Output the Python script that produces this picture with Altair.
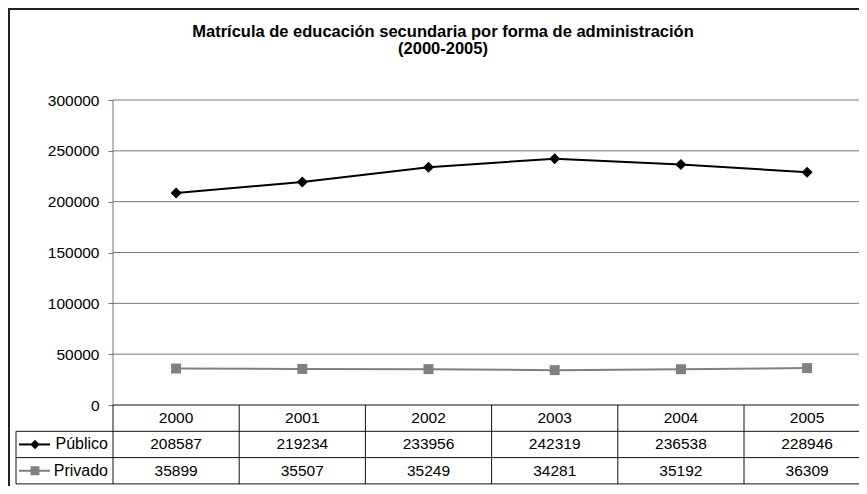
import altair as alt
import pandas as pd

# ---------------- data ----------------
years = ["2000", "2001", "2002", "2003", "2004", "2005"]
publico = [208587, 219234, 233956, 242319, 236538, 228946]
privado = [35899, 35507, 35249, 34281, 35192, 36309]
series = ["Público", "Privado"]
series_colors = ["#000000", "#808080"]
series_shapes = ["diamond", "square"]
y_ticks = [0, 50000, 100000, 150000, 200000, 250000, 300000]
title_lines = ["Matrícula de educación secundaria por forma de administración", "(2000-2005)"]

# ---------------- layout (pixels) ----------------
W, H = 851, 478
PLOT_L = 105.0     # left edge of the plot area inside the svg
COL_W = 126.2      # width of one year column
Y_ZERO = 397.0     # pixel row of value 0
Y_TOP = 92.0       # pixel row of the highest tick
ROW_H = 26.3       # data-table row height
LEG_W = 97.0       # width of the legend column of the data table
Y_MAX = y_ticks[-1]
FONT = "Liberation Sans, Arial, sans-serif"

# x scale in column-index units
x_lo = -0.5 - PLOT_L / COL_W
x_hi = x_lo + W / COL_W
xscale = alt.Scale(domain=[x_lo, x_hi], nice=False, zero=False)
leg_left = -0.5 - LEG_W / COL_W
n = len(years)

# value scale
upp = Y_MAX / (Y_ZERO - Y_TOP)
vscale = alt.Scale(domain=[-(H - Y_ZERO) * upp, Y_MAX + Y_TOP * upp], nice=False, zero=False)

# table-row scale (row boundaries 0..3, growing downward)
rscale = alt.Scale(domain=[(H - Y_ZERO) / ROW_H, -Y_ZERO / ROW_H], nice=False, zero=False)

# ---------------- tables ----------------
long = pd.DataFrame(
    [{"idx": i, "year": y, "serie": s, "value": v}
     for s, vals in zip(series, [publico, privado])
     for i, (y, v) in enumerate(zip(years, vals))]
)

cells = [{"idx": i, "row": 0.5, "label": y} for i, y in enumerate(years)]
for r, vals in enumerate([publico, privado], start=1):
    cells += [{"idx": i, "row": r + 0.5, "label": str(v)} for i, v in enumerate(vals)]
cells = pd.DataFrame(cells)

legend_df = pd.DataFrame({"serie": series, "row": [1.5, 2.5], "edge": [-0.5, -0.5]})

grid_df = pd.DataFrame({"v": y_ticks[1:], "x0": -0.5, "x1": n - 0.5})
axis_df = pd.DataFrame({"v": y_ticks, "x0": -0.5})
axisline_df = pd.DataFrame({"x": [-0.5], "v0": [0], "v1": [Y_MAX]})

hlines = pd.DataFrame(
    [{"r": 0, "x0": -0.5, "x1": n - 0.5}] +
    [{"r": r, "x0": leg_left, "x1": n - 0.5} for r in (1, 2, 3)]
)
vlines = pd.DataFrame(
    [{"x": -0.5 + i, "r0": 0, "r1": 3} for i in range(n + 1)] +
    [{"x": leg_left, "r0": 1, "r1": 3}]
)
frame_df = pd.DataFrame({"x0": [x_lo + 1 / COL_W], "x1": [x_hi + 1],
                         "r0": [-Y_ZERO / ROW_H + 1 / ROW_H], "r1": [(H - Y_ZERO) / ROW_H + 1]})
title_df = pd.DataFrame({"x": [x_lo + (443 - 8) / COL_W], "r": [(23.5 - Y_ZERO) / ROW_H],
                         "t": ["\n".join(title_lines)]})

color_scale = alt.Scale(domain=series, range=series_colors)
shape_scale = alt.Scale(domain=series, range=series_shapes)

# ---------------- layers ----------------
frame = alt.Chart(frame_df).mark_rect(fill=None, stroke="#222222", strokeWidth=2).encode(
    x=alt.X("x0:Q", scale=xscale, axis=None), x2="x1:Q",
    y=alt.Y("r0:Q", scale=rscale, axis=None), y2="r1:Q",
)

title = alt.Chart(title_df).mark_text(
    font=FONT, fontSize=16.5, fontWeight="bold", color="black",
    align="center", baseline="middle", lineBreak="\n", lineHeight=17,
).encode(
    x=alt.X("x:Q", scale=xscale, axis=None),
    y=alt.Y("r:Q", scale=rscale, axis=None),
    text="t:N",
)

ticks_layer = alt.Chart(axis_df).mark_rule(opacity=0).encode(
    x=alt.X("x0:Q", scale=xscale, axis=None),
    y=alt.Y("v:Q", scale=vscale, axis=alt.Axis(
        values=y_ticks, orient="left", offset=-PLOT_L, grid=False, domain=False,
        ticks=True, tickSize=5, tickColor="#777777", tickWidth=1,
        labelFont=FONT, labelFontSize=15.5, labelColor="black", labelPadding=9,
        format="d", title=None)),
)

grid = alt.Chart(grid_df).mark_rule(color="#777777", strokeWidth=1).encode(
    x=alt.X("x0:Q", scale=xscale, axis=None), x2="x1:Q",
    y=alt.Y("v:Q", scale=vscale, axis=None),
)

axisline = alt.Chart(axisline_df).mark_rule(color="#777777", strokeWidth=1).encode(
    x=alt.X("x:Q", scale=xscale, axis=None),
    y=alt.Y("v0:Q", scale=vscale, axis=None), y2="v1:Q",
)

hl = alt.Chart(hlines).mark_rule(color="#111111", strokeWidth=1).encode(
    x=alt.X("x0:Q", scale=xscale, axis=None), x2="x1:Q",
    y=alt.Y("r:Q", scale=rscale, axis=None),
)
vl = alt.Chart(vlines).mark_rule(color="#111111", strokeWidth=1).encode(
    x=alt.X("x:Q", scale=xscale, axis=None),
    y=alt.Y("r0:Q", scale=rscale, axis=None), y2="r1:Q",
)

lines = alt.Chart(long).mark_line(strokeWidth=2).encode(
    x=alt.X("idx:Q", scale=xscale, axis=None),
    y=alt.Y("value:Q", scale=vscale, axis=None),
    color=alt.Color("serie:N", scale=color_scale, legend=None),
)
points = alt.Chart(long).mark_point(filled=True, opacity=1).encode(
    x=alt.X("idx:Q", scale=xscale, axis=None),
    y=alt.Y("value:Q", scale=vscale, axis=None),
    color=alt.Color("serie:N", scale=color_scale, legend=None),
    shape=alt.Shape("serie:N", scale=shape_scale, legend=None),
    size=alt.Size("serie:N", scale=alt.Scale(domain=series, range=[121, 100]), legend=None),
)

cell_text = alt.Chart(cells).mark_text(
    font=FONT, fontSize=15.5, color="black", align="center", baseline="middle"
).encode(
    x=alt.X("idx:Q", scale=xscale, axis=None),
    y=alt.Y("row:Q", scale=rscale, axis=None),
    text="label:N",
)

leg_text = alt.Chart(legend_df).mark_text(
    font=FONT, fontSize=16, color="black", align="right", baseline="middle", dx=-5
).encode(
    x=alt.X("edge:Q", scale=xscale, axis=None),
    y=alt.Y("row:Q", scale=rscale, axis=None),
    text="serie:N",
)
leg_line = alt.Chart(legend_df).mark_rule(strokeWidth=2, xOffset=-94, x2Offset=-63).encode(
    x=alt.X("edge:Q", scale=xscale, axis=None), x2="edge:Q",
    y=alt.Y("row:Q", scale=rscale, axis=None),
    color=alt.Color("serie:N", scale=color_scale, legend=None),
)
leg_point = alt.Chart(legend_df).mark_point(filled=True, opacity=1, xOffset=-78).encode(
    x=alt.X("edge:Q", scale=xscale, axis=None),
    y=alt.Y("row:Q", scale=rscale, axis=None),
    color=alt.Color("serie:N", scale=color_scale, legend=None),
    shape=alt.Shape("serie:N", scale=shape_scale, legend=None),
    size=alt.Size("serie:N", scale=alt.Scale(domain=series, range=[90, 80]), legend=None),
)

chart = alt.layer(
    frame, title, ticks_layer, grid, axisline, hl, vl, lines, points,
    cell_text, leg_text, leg_line, leg_point,
).resolve_scale(
    y="independent", color="shared", shape="shared", size="independent"
).properties(
    width=W, height=H, padding=0,
    autosize=alt.AutoSizeParams(type="none"),
    background="white",
).configure_view(stroke=None)

chart.save("out.html", embed_options={"renderer": "svg", "actions": False})
